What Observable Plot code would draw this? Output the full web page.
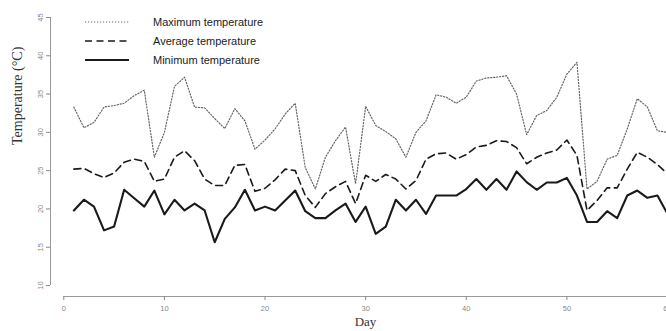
<!DOCTYPE html>
<html>
<head>
<meta charset="utf-8">
<script src="https://cdn.jsdelivr.net/npm/d3@7"></script>
<script src="https://cdn.jsdelivr.net/npm/@observablehq/plot@0.6"></script>
<style>
  html, body { margin: 0; padding: 0; background: #fff; }
  #wrap { position: relative; width: 666px; height: 331px; overflow: hidden; }
  #legend { position: absolute; left: 85px; top: 12px; font-family: "Liberation Sans", Arial, sans-serif; font-size: 11px; color: #222; }
  #legend .row { display: flex; align-items: center; height: 19px; }
  #legend svg { width: 44px; height: 6px; margin-right: 24px; }
</style>
</head>
<body>
<div id="wrap"></div>
<script>
const days = d3.range(1, 61);
const maxT = [33.3,30.6,31.3,33.3,33.5,33.8,34.8,35.5,26.75,30.0,
              36.0,37.2,33.3,33.2,31.8,30.5,33.1,31.5,27.8,29.0,
              30.45,32.4,33.8,25.4,22.6,26.75,28.9,30.7,23.3,33.4,
              30.9,30.1,29.15,26.75,30.0,31.5,34.9,34.6,33.8,34.6,
              36.7,37.1,37.2,37.4,35.0,29.7,32.2,32.85,34.6,37.6,
              39.15,22.6,23.6,26.5,27.0,30.45,34.4,33.3,30.2,30.0];
const avgT = [25.2,25.3,24.6,24.1,24.7,26.1,26.5,26.2,23.6,23.9,
              26.75,27.6,26.3,23.9,23.05,23.05,25.7,25.8,22.3,22.7,
              23.8,25.2,25.0,21.75,20.2,22.0,22.9,23.6,20.7,24.4,
              23.6,24.5,23.9,22.6,23.7,26.5,27.2,27.3,26.5,27.1,
              28.1,28.3,28.9,28.8,28.0,25.9,26.75,27.3,27.7,29.0,
              27.0,19.8,21.1,22.75,22.75,25.2,27.4,26.75,25.8,24.6];
const minT = [19.8,21.2,20.3,17.2,17.7,22.5,21.4,20.3,22.4,19.3,
              21.2,19.8,20.7,19.8,15.65,18.7,20.2,22.5,19.8,20.3,
              19.8,21.1,22.4,19.7,18.8,18.8,19.8,20.7,18.3,20.3,
              16.75,17.7,21.2,19.8,21.2,19.35,21.75,21.75,21.75,22.6,
              23.9,22.5,23.9,22.5,24.9,23.5,22.5,23.45,23.45,24.05,
              21.75,18.3,18.3,19.7,18.8,21.75,22.4,21.45,21.75,19.35];
const xTicks = [0, 10, 20, 30, 40, 50, 60];
const yTicks = [10, 15, 20, 25, 30, 35, 40, 45];
const seriesNames = ["Maximum temperature", "Average temperature", "Minimum temperature"];

const styles = {
  max: {stroke: "#666", strokeWidth: 1.2, strokeDasharray: "1.2,1.8"},
  avg: {stroke: "#1a1a1a", strokeWidth: 1.6, strokeDasharray: "7,4.5"},
  min: {stroke: "#1a1a1a", strokeWidth: 2.1}
};

const chart = Plot.plot({
  width: 666,
  height: 331,
  marginLeft: 50,
  marginRight: 0,
  marginTop: 17,
  marginBottom: 35,
  x: {domain: [0, 60], range: [63.3, 667]},
  y: {domain: [10, 45], range: [285, 17]},
  style: {fontFamily: "Liberation Sans, Arial, sans-serif", background: "#fff", overflow: "hidden"},
  marks: [
    Plot.ruleY([10], {x1: 0, x2: 60, dy: 11, stroke: "#999"}),
    Plot.ruleX([0], {y1: 10, y2: 45, dx: -13.3, stroke: "#999"}),
    Plot.axisX({ticks: xTicks, tickSize: 4, tickPadding: 5, fontSize: 7.5, color: "#888", label: null}),
    Plot.axisY({ticks: yTicks, tickSize: 4, tickRotate: -90, tickPadding: 4, fontSize: 7.5, color: "#888", label: null}),
    Plot.lineY(maxT, {x: days, ...styles.max}),
    Plot.lineY(avgT, {x: days, ...styles.avg}),
    Plot.lineY(minT, {x: days, ...styles.min}),
    Plot.text(["Day"], {frameAnchor: "bottom", dx: 7, dy: 29, fontSize: 13, fill: "#333",
      fontFamily: "Liberation Serif, Times New Roman, serif"}),
    Plot.text(["Temperature (\u00B0C)"], {frameAnchor: "left", rotate: -90, dx: -33, dy: -12, fontSize: 14, fill: "#333",
      fontFamily: "Liberation Serif, Times New Roman, serif"})
  ]
});

const wrap = document.getElementById("wrap");
wrap.appendChild(chart);

const legend = document.createElement("div");
legend.id = "legend";
const keys = ["max", "avg", "min"];
keys.forEach((k, i) => {
  const s = styles[k];
  const row = document.createElement("div");
  row.className = "row";
  row.innerHTML = `<svg viewBox="0 0 44 6"><line x1="0" x2="44" y1="3" y2="3" stroke="${s.stroke}" stroke-width="${s.strokeWidth}" ${s.strokeDasharray ? `stroke-dasharray="${s.strokeDasharray}"` : ""}/></svg><span>${seriesNames[i]}</span>`;
  legend.appendChild(row);
});
wrap.appendChild(legend);
</script>
</body>
</html>
